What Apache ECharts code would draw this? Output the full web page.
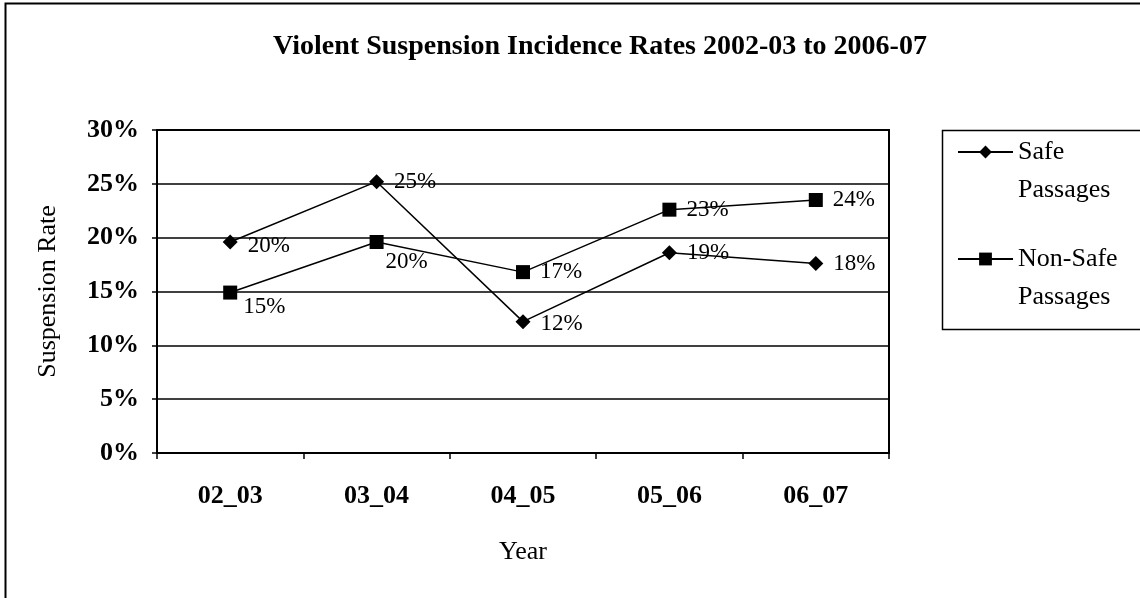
<!DOCTYPE html>
<html>
<head>
<meta charset="utf-8">
<title>Violent Suspension Incidence Rates</title>
<script src="https://cdn.jsdelivr.net/npm/echarts@6/dist/echarts.min.js"></script>
<style>
  html, body { margin: 0; padding: 0; background: #fff; }
  #chart { width: 1140px; height: 598px; }
</style>
</head>
<body>
<div id="chart"></div>
<script>
// data (percent)
const years = ['02_03', '03_04', '04_05', '05_06', '06_07']
const safePassages = [19.6, 25.2, 12.2, 18.6, 17.6]
const nonSafePassages = [14.9, 19.6, 16.8, 22.6, 23.5]
const rateTicks = [0, 5, 10, 15, 20, 25, 30]

const FONT = "'Liberation Serif', 'DejaVu Serif', serif"

// a couple of labels sit lower than the others in the original
const nonSafeLabelOffset = [[-4, 14], [-8, 20], [0, 0], [0, 0], [0, 0]]
const safeLabelOffset = [[0, 4], [0, 0], [0, 2], [0, 0], [0, 0]]

const pct = (p) => Math.round(p.value) + '%'

const myChart = echarts.init(document.getElementById('chart'))
myChart.setOption({
  animation: false,
  backgroundColor: '#fff',
  textStyle: { fontFamily: FONT, color: '#000' },
  title: {
    text: 'Violent Suspension Incidence Rates 2002-03 to 2006-07',
    left: 595,
    top: 28,
    textAlign: 'center',
    textStyle: { fontFamily: FONT, fontSize: 28, fontWeight: 'bold', color: '#000' }
  },
  graphic: [
    { // outer frame of the chart
      type: 'rect',
      shape: { x: 5.5, y: 3.5, width: 1200, height: 700 },
      style: { fill: 'none', stroke: '#000', lineWidth: 2 },
      silent: true
    },
    { // legend box
      type: 'rect',
      shape: { x: 942.5, y: 130.5, width: 230, height: 199 },
      style: { fill: 'none', stroke: '#000', lineWidth: 1.5 },
      silent: true
    }
  ],
  legend: {
    orient: 'vertical',
    left: 957,
    top: 95,
    itemWidth: 55,
    itemHeight: 16,
    itemGap: -7,
    padding: 0,
    data: ['Safe Passages', 'Non-Safe Passages'],
    // empty first line so the icon lines up with the first word
    formatter: (name) => '\n' + name.replace(' ', '\n'),
    textStyle: {
      fontFamily: FONT,
      fontSize: 26,
      color: '#000',
      lineHeight: 38
    }
  },
  grid: {
    left: 157,
    right: 251,
    top: 130,
    bottom: 145,
    show: true,
    borderColor: '#000',
    borderWidth: 2
  },
  xAxis: {
    type: 'category',
    data: years,
    boundaryGap: true,
    name: 'Year',
    nameLocation: 'middle',
    nameGap: 86,
    nameTextStyle: { fontFamily: FONT, fontSize: 26, color: '#000' },
    axisLine: { lineStyle: { color: '#000', width: 2 } },
    axisTick: { show: true, length: 6, lineStyle: { color: '#000', width: 1.5 } },
    axisLabel: { margin: 30, fontFamily: FONT, fontSize: 26, fontWeight: 'bold', color: '#000' }
  },
  yAxis: {
    type: 'value',
    min: rateTicks[0],
    max: rateTicks[rateTicks.length - 1],
    interval: 5,
    name: 'Suspension Rate',
    nameLocation: 'middle',
    nameRotate: 90,
    nameGap: 96,
    nameTextStyle: { fontFamily: FONT, fontSize: 26, color: '#000' },
    axisLine: { show: true, lineStyle: { color: '#000', width: 2 } },
    axisTick: { show: true, length: 5, lineStyle: { color: '#000', width: 1.5 } },
    axisLabel: { margin: 18, formatter: '{value}%', fontFamily: FONT, fontSize: 26, fontWeight: 'bold', color: '#000' },
    splitLine: { show: true, lineStyle: { color: '#000', width: 1.5 } }
  },
  series: [
    {
      name: 'Safe Passages',
      type: 'line',
      symbol: 'diamond',
      symbolSize: 15,
      color: '#000',
      lineStyle: { color: '#000', width: 1.5 },
      itemStyle: { color: '#000' },
      data: safePassages.map((v, i) => ({
        value: v,
        label: { offset: safeLabelOffset[i] }
      })),
      label: {
        show: true,
        position: 'right',
        distance: 10,
        formatter: pct,
        fontFamily: FONT,
        fontSize: 23,
        color: '#000'
      }
    },
    {
      name: 'Non-Safe Passages',
      type: 'line',
      symbol: 'rect',
      symbolSize: 14,
      color: '#000',
      lineStyle: { color: '#000', width: 1.5 },
      itemStyle: { color: '#000' },
      data: nonSafePassages.map((v, i) => ({
        value: v,
        label: { offset: nonSafeLabelOffset[i] }
      })),
      label: {
        show: true,
        position: 'right',
        distance: 10,
        formatter: pct,
        fontFamily: FONT,
        fontSize: 23,
        color: '#000'
      }
    }
  ]
})
window.onresize = myChart.resize
</script>
</body>
</html>
